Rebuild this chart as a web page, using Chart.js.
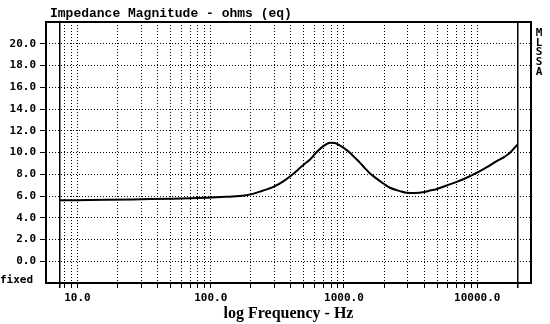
<!DOCTYPE html>
<html>
<head>
<meta charset="utf-8">
<script src="https://cdn.jsdelivr.net/npm/chart.js@4/dist/chart.umd.min.js"></script>
<style>
    body { margin: 0; background: #fff; }
    #wrap { width: 550px; height: 324px; }
</style>
</head>
<body>
<div id="wrap"><canvas id="imp-chart" width="550" height="324"></canvas></div>
<script>
// impedance sweep, ohms vs frequency
const freqHz = [7.4, 10, 16.6, 30, 52, 93, 130, 166, 200, 234, 270, 303, 350, 393, 450, 500, 556, 620, 700, 785, 850, 906,
    1000, 1109, 1200, 1319, 1450, 1560, 1660, 1863, 2000, 2214, 2630, 2954, 3400, 4000, 4414, 5000, 5888, 7000, 8318,
    10470, 12000, 13970, 16000, 17590, 20000];
const ohms = [5.6, 5.62, 5.65, 5.7, 5.75, 5.84, 5.92, 6.0, 6.15, 6.4, 6.65, 6.9, 7.35, 7.8, 8.4, 8.9, 9.36, 10.0, 10.58, 10.89, 10.88, 10.73,
    10.4, 9.97, 9.55, 9.05, 8.5, 8.1, 7.83, 7.37, 7.1, 6.76, 6.45, 6.3, 6.28, 6.36, 6.5, 6.65, 6.97, 7.3, 7.68,
    8.28, 8.7, 9.2, 9.6, 9.97, 10.73];

// grid positions on the frequency axis; first and last mark the sweep limits
const freqGrid = [7.4, 8, 9, 10, 20, 30, 40, 50, 60, 70, 80, 90, 100, 200, 300, 400, 500, 600, 700, 800, 900,
    1000, 2000, 3000, 4000, 5000, 6000, 7000, 8000, 9000, 10000, 20000];
const freqLabels = [10, 100, 1000, 10000];
const ohmTicks = [0, 2, 4, 6, 8, 10, 12, 14, 16, 18, 20];

const monoFont = "'DejaVu Sans Mono', monospace";

const isSweepEdge = (c) => c.tick && (c.tick.value === freqGrid[0] || c.tick.value === freqGrid[freqGrid.length - 1]);

const framePlugin = {
    id: 'frame',
    beforeDatasetsDraw(chart) {
        const { ctx, chartArea: a } = chart;
        ctx.save();
        ctx.strokeStyle = '#000';
        ctx.lineWidth = 2;
        ctx.strokeRect(a.left, a.top, a.right - a.left, a.bottom - a.top);

        ctx.fillStyle = '#000';
        ctx.textBaseline = 'middle';
        ctx.font = "bold 13px 'Liberation Mono', monospace";
        ctx.textAlign = 'left';
        ctx.fillText('Impedance Magnitude - ohms (eq)', 50, 14);

        ctx.font = 'bold 11px ' + monoFont;
        ctx.fillText('fixed', 0, 280);

        ctx.textAlign = 'center';
        ['M', 'L', 'S', 'S', 'A'].forEach((ch, i) => ctx.fillText(ch, 539, 33 + i * 9.8));
        ctx.restore();
    }
};

const ctx = document.getElementById('imp-chart').getContext('2d');
new Chart(ctx, {
    type: 'line',
    data: {
        datasets: [{
            data: freqHz.map((f, i) => ({ x: f, y: ohms[i] })),
            borderColor: '#000',
            borderWidth: 2,
            pointRadius: 0,
            cubicInterpolationMode: 'monotone',
            fill: false
        }]
    },
    options: {
        responsive: false,
        animation: false,
        layout: { padding: { top: 22, right: 19, left: 0, bottom: 0 } },
        plugins: { legend: { display: false }, title: { display: false }, tooltip: { enabled: false } },
        scales: {
            x: {
                type: 'logarithmic',
                min: 5.81,
                max: 25300,
                afterBuildTicks: (scale) => { scale.ticks = freqGrid.map(v => ({ value: v })); },
                afterFit: (scale) => { scale.height = 41; },
                ticks: {
                    autoSkip: false,
                    maxRotation: 0,
                    padding: 4,
                    color: '#000',
                    font: { family: monoFont, size: 11, weight: 'bold' },
                    callback: (v) => freqLabels.includes(v) ? v.toFixed(1) : ''
                },
                grid: {
                    color: '#000',
                    lineWidth: (c) => isSweepEdge(c) ? 1.5 : 1,
                    tickLength: 5,
                    tickColor: '#000',
                    tickBorderDash: []
                },
                border: {
                    display: false,
                    dash: (c) => isSweepEdge(c) ? [] : [1, 2]
                },
                title: {
                    display: true,
                    text: 'log Frequency - Hz',
                    color: '#000',
                    font: { family: "'Liberation Serif', serif", size: 16, weight: 'bold' },
                    padding: { top: 0, bottom: 1 }
                }
            },
            y: {
                min: -2,
                max: 22,
                afterBuildTicks: (scale) => { scale.ticks = ohmTicks.map(v => ({ value: v })); },
                afterFit: (scale) => { scale.width = 46; },
                ticks: {
                    padding: 4,
                    color: '#000',
                    font: { family: monoFont, size: 11, weight: 'bold' },
                    callback: (v) => v.toFixed(1)
                },
                grid: {
                    color: '#000',
                    lineWidth: 1,
                    tickLength: 6,
                    tickColor: '#000',
                    tickBorderDash: []
                },
                border: { display: false, dash: [1, 2] }
            }
        }
    },
    plugins: [framePlugin]
});
</script>
</body>
</html>
